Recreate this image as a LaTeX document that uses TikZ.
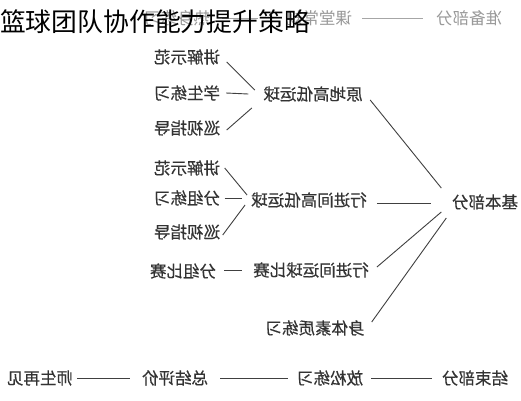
\documentclass[tikz,border=0pt]{standalone}
\usepackage{fontspec}
\newfontfamily\cjk{Noto Sans CJK SC}
\newfontfamily\cjkb[FakeBold=0.5]{Noto Sans CJK SC}
\usetikzlibrary{calc}
\newcommand{\mirtxt}[1]{\scalebox{-1}[1]{#1}}
\tikzset{
  lbl/.style={inner sep=0pt, text=black!80, font=\cjkb\fontsize{16.5}{18}\selectfont},
  faint/.style={lbl, text=black!40, font=\cjk\fontsize{16.5}{18}\selectfont},
  conn/.style={draw=black!75, line width=0.9pt},
  fconn/.style={draw=black!35, line width=0.8pt},
}
\begin{document}
\begin{tikzpicture}[x=1pt,y=-1pt]
\useasboundingbox (0,0) rectangle (521,400);
\fill[white] (0,0) rectangle (521,400);
% top row (faint, under the title)
\node[faint] (hid)  at (177,18) {\mirtxt{热身练习}};
\node[faint] (ktcg) at (319,18) {\mirtxt{课堂常规}};
\node[faint] (zbbf) at (469,18) {\mirtxt{准备部分}};
\draw[fconn] ($(ktcg.east)+(10,0)$) -- ($(zbbf.west)+(-13,0)$);
\draw[fconn] ($(hid.east)+(12,0)$) -- ($(ktcg.west)+(-28,0)$);
% title
\node[inner sep=0pt, anchor=west, text=black, font=\cjk\fontsize{25.8}{28}\selectfont] (title) at (0,22) {篮球团队协作能力提升策略};
% group 1
\node[lbl] (js1) at (187,57)  {\mirtxt{讲解示范}};
\node[lbl] (xs)  at (187,93)  {\mirtxt{学生练习}};
\node[lbl] (xz1) at (187,128) {\mirtxt{巡视指导}};
\node[lbl] (yd)  at (313,94)  {\mirtxt{原地高低运球}};
% group 2
\node[lbl] (js2) at (187,168) {\mirtxt{讲解示范}};
\node[lbl] (fz)  at (187,198) {\mirtxt{分组练习}};
\node[lbl] (xz2) at (187,232) {\mirtxt{巡视指导}};
\node[lbl] (xj)  at (309,200) {\mirtxt{行进间高低运球}};
% group 3
\node[lbl] (fzbs) at (183,271) {\mirtxt{分组比赛}};
\node[lbl] (xjbs) at (311,270) {\mirtxt{行进间运球比赛}};
\node[lbl] (stsz) at (315,328) {\mirtxt{身体素质练习}};
% main
\node[lbl] (jbbf) at (485,202) {\mirtxt{基本部分}};
% bottom row
\node[lbl] (sszj) at (40,378)  {\mirtxt{师生再见}};
\node[lbl] (zjpj) at (175,378) {\mirtxt{总结评价}};
\node[lbl] (fslx) at (330,378) {\mirtxt{放松练习}};
\node[lbl] (jsbf) at (475,378) {\mirtxt{结束部分}};
% connectors group 1
\draw[conn] ($(js1.east)+(6.5,5)$) -- ($(yd.west)+(-8.5,-4)$);
\draw[conn] ($(xs.east)+(6,0)$) -- ($(yd.west)+(-15,0)$);
\draw[conn] ($(xz1.east)+(6.5,2)$) -- ($(yd.west)+(-11.5,14)$);
\draw[conn] ($(yd.east)+(7.5,6)$) -- ($(jbbf.west)+(-10.5,-14)$);
% group 2
\draw[conn] ($(js2.east)+(4.5,0)$) -- ($(xj.west)+(-4,-5)$);
\draw[conn] ($(fz.east)+(4.5,0)$) -- ($(xj.west)+(-9,-2)$);
\draw[conn] ($(xz2.east)+(2.5,3)$) -- ($(xj.west)+(-6,5)$);
\draw[conn] ($(xj.east)+(10,3)$) -- ($(jbbf.west)+(-20.5,1)$);
% group 3
\draw[conn] ($(fzbs.east)+(8,-1)$) -- ($(xjbs.west)+(-11,0)$);
\draw[conn] ($(xjbs.east)+(8,-3)$) -- ($(jbbf.west)+(-10.5,10)$);
\draw[conn] ($(stsz.east)+(7,-6)$) -- ($(jbbf.west)+(-5.5,16)$);
% bottom
\draw[conn] ($(sszj.east)+(4,0)$) -- ($(zjpj.west)+(-12,0)$);
\draw[conn] ($(zjpj.east)+(12,0)$) -- ($(fslx.west)+(-9,0)$);
\draw[conn] ($(fslx.east)+(8,0)$) -- ($(jsbf.west)+(-10,0)$);
\end{tikzpicture}
\end{document}
